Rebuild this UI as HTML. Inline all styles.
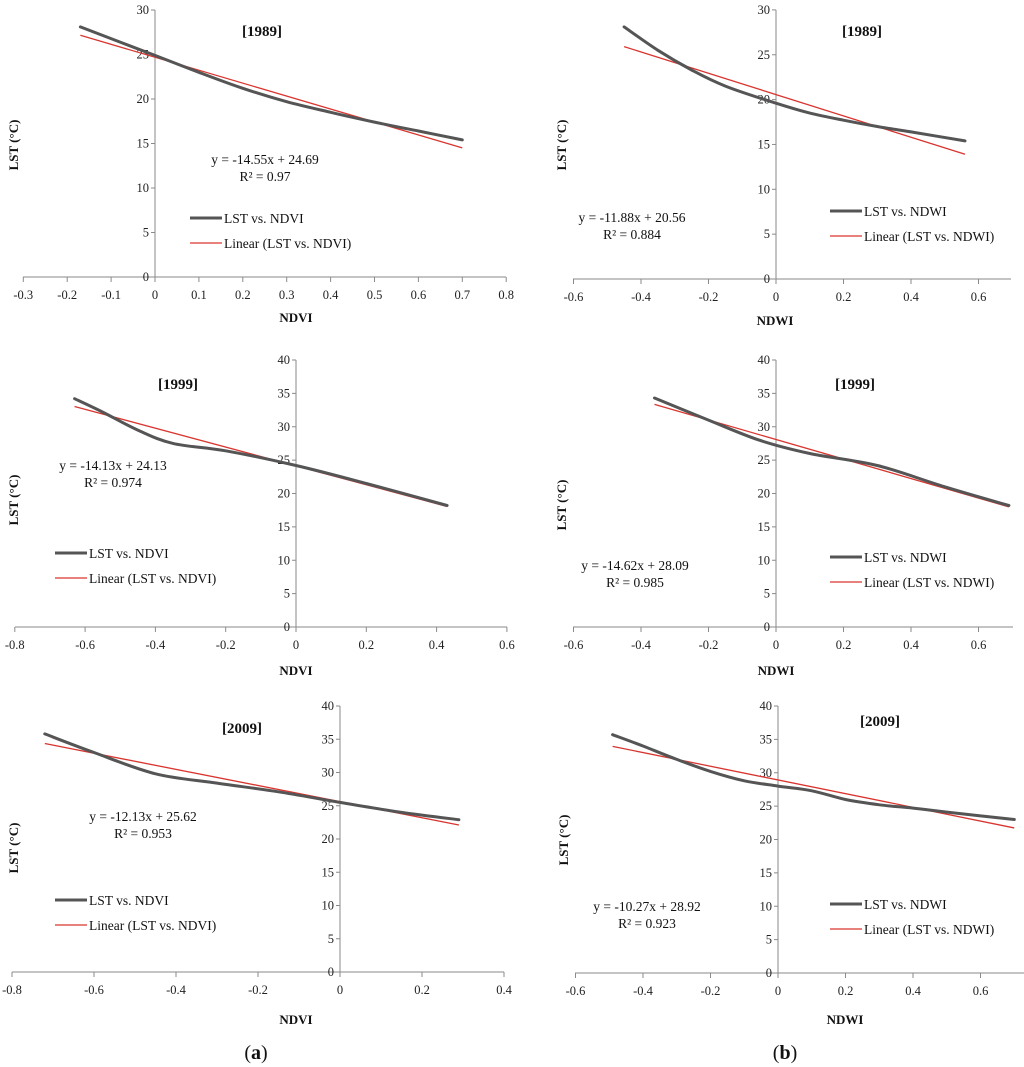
<!DOCTYPE html>
<html><head><meta charset="utf-8"><style>
html,body{margin:0;padding:0;background:#fff}
svg{display:block;font-family:"Liberation Serif",serif}
</style></head><body>
<svg id="chart" width="1024" height="1067" viewBox="0 0 1024 1067" xmlns="http://www.w3.org/2000/svg"></svg>
<script>
// data per panel
const a1X=[-0.17,0,0.1,0.2,0.3,0.4,0.5,0.6,0.7];
const a1Y=[28.1,24.9,23,21.2,19.7,18.5,17.4,16.4,15.4];
const b1X=[-0.45,-0.35,-0.25,-0.15,0,0.1,0.2,0.3,0.4,0.56];
const b1Y=[28.1,25.5,23.3,21.5,19.6,18.5,17.7,17,16.4,15.4];
const a2X=[-0.63,-0.55,-0.45,-0.35,-0.2,0,0.2,0.43];
const a2Y=[34.2,32.2,29.5,27.5,26.4,24.2,21.5,18.2];
const b2X=[-0.36,-0.2,-0.05,0.1,0.3,0.5,0.69];
const b2Y=[34.3,31,28,26,24.2,21,18.2];
const a3X=[-0.72,-0.6,-0.45,-0.3,-0.15,0,0.15,0.29];
const a3Y=[35.8,33,29.8,28.4,27.1,25.5,24,22.9];
const b3X=[-0.49,-0.4,-0.3,-0.2,-0.1,0,0.1,0.2,0.3,0.4,0.5,0.7];
const b3Y=[35.7,34,32,30.2,28.8,28,27.3,26,25.2,24.7,24.1,23];
const slopes=[-14.55,-11.88,-14.13,-14.62,-12.13,-10.27];
const intercepts=[24.69,20.56,24.13,28.09,25.62,28.92];
const r2s=["0.97","0.884","0.974","0.985","0.953","0.923"];
const years=["[1989]","[1989]","[1999]","[1999]","[2009]","[2009]"];
const xTicksA1=[-0.3,-0.2,-0.1,0,0.1,0.2,0.3,0.4,0.5,0.6,0.7,0.8];
const xTicksNDWI=[-0.6,-0.4,-0.2,0,0.2,0.4,0.6];
const xTicksA2=[-0.8,-0.6,-0.4,-0.2,0,0.2,0.4,0.6];
const xTicksA3=[-0.8,-0.6,-0.4,-0.2,0,0.2,0.4];
const yTicks30=[0,5,10,15,20,25,30];
const yTicks40=[0,5,10,15,20,25,30,35,40];

const NS="http://www.w3.org/2000/svg";
const svg=document.getElementById('chart');
function mk(tag,attrs,parent,text){const e=document.createElementNS(NS,tag);for(const k in attrs)e.setAttribute(k,attrs[k]);if(text!==undefined)e.textContent=text;(parent||svg).appendChild(e);return e;}
function smooth(pts){
 let d='M'+pts[0][0].toFixed(1)+' '+pts[0][1].toFixed(1);
 for(let k=0;k<pts.length-1;k++){
  const p0=pts[k-1]||pts[k],p1=pts[k],p2=pts[k+1],p3=pts[k+2]||p2;
  const c1=[p1[0]+(p2[0]-p0[0])/6,p1[1]+(p2[1]-p0[1])/6];
  const c2=[p2[0]-(p3[0]-p1[0])/6,p2[1]-(p3[1]-p1[1])/6];
  d+=' C'+c1.map(v=>v.toFixed(1)).join(' ')+' '+c2.map(v=>v.toFixed(1)).join(' ')+' '+p2.map(v=>v.toFixed(1)).join(' ');
 }
 return d;
}

const panels=[
 {id:'a1',xs:a1X,ys:a1Y,x0:155,xu:439,y0:277,yu:8.9,xt:xTicksA1,yt:yTicks30,axL:23,axR:506,idx:'NDVI',title:[262,36],eq:[265,164],leg:[190,218],xl:[296,322],yl:[18,145]},
 {id:'b1',xs:b1X,ys:b1Y,x0:776,xu:337.5,y0:279,yu:8.97,xt:xTicksNDWI,yt:yTicks30,axL:573,axR:1011,idx:'NDWI',title:[862,36],eq:[632,222],leg:[830,211],xl:[775,325],yl:[566,145]},
 {id:'a2',xs:a2X,ys:a2Y,x0:296,xu:351.5,y0:627,yu:6.675,xt:xTicksA2,yt:yTicks40,axL:15,axR:507,idx:'NDVI',title:[178,389],eq:[113,470],leg:[55,553],xl:[296,675],yl:[18,500]},
 {id:'b2',xs:b2X,ys:b2Y,x0:776,xu:337.5,y0:627,yu:6.675,xt:xTicksNDWI,yt:yTicks40,axL:573,axR:1013,idx:'NDWI',title:[855,389],eq:[635,570],leg:[830,557],xl:[776,675],yl:[566,505]},
 {id:'a3',xs:a3X,ys:a3Y,x0:340,xu:410,y0:972,yu:6.65,xt:xTicksA3,yt:yTicks40,axL:12,axR:504,idx:'NDVI',title:[242,733],eq:[143,821],leg:[55,900],xl:[296,1024],yl:[18,848]},
 {id:'b3',xs:b3X,ys:b3Y,x0:778,xu:337.5,y0:973,yu:6.675,xt:xTicksNDWI,yt:yTicks40,axL:575,axR:1024,idx:'NDWI',title:[880,726],eq:[647,911],leg:[830,904],xl:[845,1024],yl:[568,840]}
];

panels.forEach((p,i)=>{
 const g=mk('g',{});
 
 
 const X=v=>p.x0+v*p.xu, Y=v=>p.y0-v*p.yu;
 const yTop=Y(p.yt[p.yt.length-1]);
 const xa=mk('line',{x1:p.axL,x2:p.axR,y1:p.y0,y2:p.y0,stroke:'#8a8a8a','stroke-width':1},g);
 
 
 const ya=mk('line',{x1:p.x0,x2:p.x0,y1:yTop,y2:p.y0,stroke:'#8a8a8a','stroke-width':1},g);
 
 
 p.xt.forEach(t=>{
  mk('line',{x1:X(t),x2:X(t),y1:p.y0,y2:p.y0+5,stroke:'#8a8a8a'},g);
  const tx=mk('text',{x:X(t),y:p.y0+22,'text-anchor':'middle','font-size':12.5,fill:'#222'},g,String(t));
  
  
 });
 p.yt.forEach(t=>{
  mk('line',{x1:p.x0-4,x2:p.x0,y1:Y(t),y2:Y(t),stroke:'#8a8a8a'},g);
  const ty=mk('text',{x:p.x0-6,y:Y(t)+4,'text-anchor':'end','font-size':12.5,fill:'#222'},g,String(t));
  
  
 });
 const xa0=p.xs[0], xa1=p.xs[p.xs.length-1];
 const ln=mk('line',{x1:X(xa0),y1:Y(slopes[i]*xa0+intercepts[i]),x2:X(xa1),y2:Y(slopes[i]*xa1+intercepts[i]),stroke:'#d9352f','stroke-width':1.3},g);
 
 
 const pts=p.xs.map((x,k)=>[X(x),Y(p.ys[k])]);
 const sp=mk('path',{d:smooth(pts),fill:'none',stroke:'#555','stroke-width':3,'stroke-linejoin':'round','stroke-linecap':'round'},g);
 
 
 const tt=mk('text',{x:p.title[0],y:p.title[1],'text-anchor':'middle','font-size':15,'font-weight':'bold',fill:'#111'},g,years[i]);
 
 
 const sign='y = '+slopes[i].toFixed(2)+'x + '+intercepts[i].toFixed(2);
 const e1=mk('text',{x:p.eq[0],y:p.eq[1],'text-anchor':'middle','font-size':13.5,fill:'#111'},g,sign);
 
 
 const e2=mk('text',{x:p.eq[0],y:p.eq[1]+17,'text-anchor':'middle','font-size':13.5,fill:'#111'},g,'R² = '+r2s[i]);
 
 
 const [lx,ly]=p.leg;
 mk('line',{x1:lx,x2:lx+32,y1:ly,y2:ly,stroke:'#555','stroke-width':3},g);
 const l1=mk('text',{x:lx+34,y:ly+5,'font-size':13.5,fill:'#111'},g,'LST vs. '+p.idx);
 
 
 mk('line',{x1:lx,x2:lx+32,y1:ly+25,y2:ly+25,stroke:'#d9352f','stroke-width':1.3},g);
 const l2=mk('text',{x:lx+34,y:ly+30,'font-size':13.5,fill:'#111'},g,'Linear (LST vs. '+p.idx+')');
 
 
 const xt=mk('text',{x:p.xl[0],y:p.xl[1],'text-anchor':'middle','font-size':13,'font-weight':'bold',fill:'#111'},g,p.idx);
 
 
 const yl=mk('text',{x:p.yl[0],y:p.yl[1],'text-anchor':'middle','font-size':13,'font-weight':'bold',fill:'#111',transform:'rotate(-90 '+p.yl[0]+' '+p.yl[1]+')'},g,'LST (°C)');
 
 
});
const ca=mk('text',{x:256,y:1059,'text-anchor':'middle','font-size':20,fill:'#111'});
ca.innerHTML='(<tspan font-weight="bold">a</tspan>)';


const cb=mk('text',{x:785,y:1059,'text-anchor':'middle','font-size':20,fill:'#111'});
cb.innerHTML='(<tspan font-weight="bold">b</tspan>)';


</script>
</body></html>
